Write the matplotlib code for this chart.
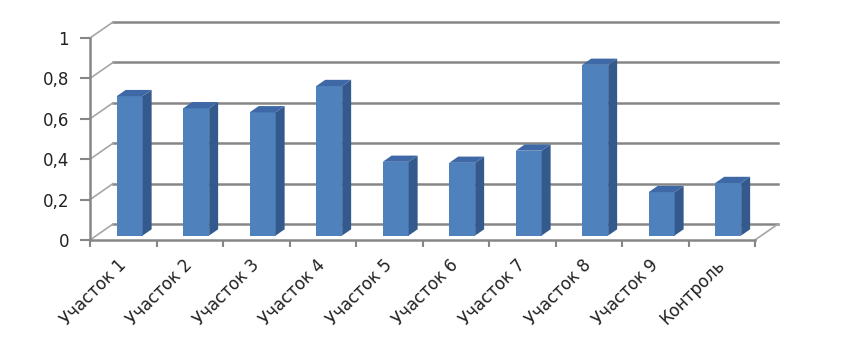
import numpy as np
import matplotlib
matplotlib.use("Agg")
import matplotlib.pyplot as plt
from matplotlib.patches import Polygon
from matplotlib.ticker import FuncFormatter

categories = ["Участок 1", "Участок 2", "Участок 3", "Участок 4", "Участок 5",
              "Участок 6", "Участок 7", "Участок 8", "Участок 9", "Контроль"]
values = [0.69, 0.63, 0.61, 0.74, 0.365, 0.36, 0.42, 0.845, 0.215, 0.26]
yticks = [0, 0.2, 0.4, 0.6, 0.8, 1.0]

# fake 3d: depth offset of the back wall in data units
DX, DY = 0.346, 0.079
f0, f1 = 0.28, 0.67          # bar front/back as fraction of floor depth
bw = 0.39

front_c = "#4F81BD"
side_c = "#34598C"
top_c = "#3E68A6"
grid_c = "#868686"

plt.rcParams["font.family"] = "DejaVu Sans"

fig = plt.figure(figsize=(8.51, 3.49), dpi=100)
# axes box in pixels: x 80..800, y 20..245 (from top)
ax = fig.add_axes([80 / 851, (349 - 245) / 349, 720 / 851, 225 / 349])
ax.set_xlim(-0.5 - 10 / 66.5, -0.5 + 710 / 66.5)
ax.set_ylim(-5 / 202, 220 / 202)

n = len(categories)
x = np.arange(n)
xl, xr = -0.5, n - 0.5

# back wall gridlines and diagonals on the side wall
for v in yticks:
    ax.plot([xl + DX, xr + DX], [v + DY, v + DY], color=grid_c, lw=1.8, zorder=1)
    ax.plot([xl, xl + DX], [v, v + DY], color="#A6A6A6", lw=1.2, zorder=1)
# floor right edge
ax.plot([xr, xr + DX], [0, DY], color="#A6A6A6", lw=1.2, zorder=1)

# bars
b0 = f0 * DY
ddx = (f1 - f0) * DX
ddy = (f1 - f0) * DY
xc = x + f0 * DX + 0.0
ax.bar(xc, values, width=bw, bottom=b0, color=front_c, zorder=3)
for xi, v in zip(xc, values):
    l, r = xi - bw / 2, xi + bw / 2
    t = b0 + v
    ax.add_patch(Polygon([(r, b0), (r + ddx, b0 + ddy), (r + ddx, t + ddy), (r, t)],
                         closed=True, facecolor=side_c, edgecolor="none", zorder=3))
    ax.add_patch(Polygon([(l, t), (r, t), (r + ddx, t + ddy), (l + ddx, t + ddy)],
                         closed=True, facecolor=top_c, edgecolor="none", zorder=3))

# axes
for s in ["top", "right"]:
    ax.spines[s].set_visible(False)
ax.spines["left"].set_position(("data", xl))
ax.spines["left"].set_bounds(0, 1)
ax.spines["bottom"].set_position(("data", 0))
ax.spines["bottom"].set_bounds(xl, xr)
for s in ["left", "bottom"]:
    ax.spines[s].set_color(grid_c)
    ax.spines[s].set_linewidth(1.8)
    ax.spines[s].set_zorder(2)

ax.set_yticks(yticks)
ax.yaxis.set_major_formatter(FuncFormatter(lambda v, p: f"{v:g}".replace(".", ",")))
ax.tick_params(axis="y", length=7, width=1.5, color=grid_c, pad=8, labelsize=12,
               labelcolor="#222222")

ax.set_xticks(np.arange(n + 1) - 0.5)
ax.set_xticklabels([])
ax.set_xticks(x, minor=True)
ax.set_xticklabels(categories, minor=True, rotation=45, ha="right",
                   rotation_mode="anchor", va="center")
ax.tick_params(axis="x", which="major", length=5, width=1.5, color=grid_c)
ax.tick_params(axis="x", which="minor", length=0, pad=16, labelsize=12,
               labelcolor="#222222")

fig.savefig("out.png", dpi=100)
